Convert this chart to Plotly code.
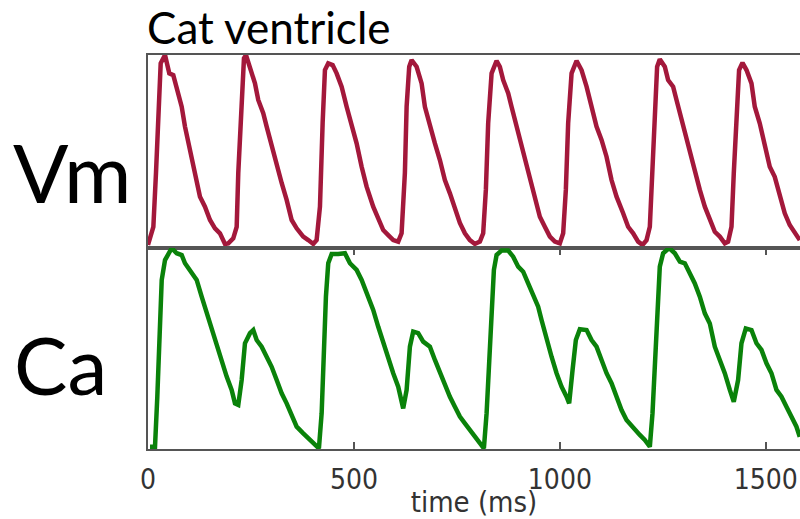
import plotly.graph_objects as go
from plotly.subplots import make_subplots

# ---- data (time in ms, signals normalised 0..1) ----
vm_t = [0, 13, 19.4, 25.0, 30.8, 41.3, 46.8, 51.7, 61.4, 69.7, 81.8, 89.8, 101.9, 114.1, 126.2, 138.3,
        150.5, 162.6, 174.7, 186.9, 194.9, 207.0, 215.3, 219.2, 227.4, 233.0, 237.9, 247.6, 259.7, 267.7,
        279.8, 288.1, 300.2, 312.4, 324.5, 336.6, 348.8, 360.9, 376.9, 389.1, 401.2, 409.4, 417.5, 424.0,
        429.6, 437.6, 448.3, 458.0, 470.1, 482.3, 494.4, 506.5, 518.7, 530.8, 546.8, 559.0, 571.1, 583.2,
        595.4, 607.5, 615.7, 623.7, 627.9, 634.2, 640.0, 652.2, 664.3, 672.3, 684.4, 696.6, 708.7, 720.8,
        733.0, 745.1, 757.2, 769.4, 781.5, 793.6, 805.8, 813.8, 820.3, 825.9, 834.2, 846.3, 854.3, 862.4,
        874.5, 882.7, 890.7, 902.9, 915.0, 927.1, 939.3, 951.4, 963.5, 975.7, 987.8, 999.9, 1008.0, 1014.5,
        1020.1, 1028.4, 1040.5, 1052.6, 1064.8, 1076.9, 1089.0, 1101.2, 1113.3, 1125.4, 1137.6, 1153.6,
        1165.7, 1177.9, 1190.0, 1200.7, 1210.4, 1218.4, 1224.9, 1230.5, 1236.1, 1242.6, 1254.8, 1262.8,
        1275.0, 1283.2, 1295.3, 1307.4, 1315.5, 1327.6, 1339.8, 1351.9, 1364.0, 1376.2, 1388.3, 1400.4,
        1408.4, 1416.7, 1422.2, 1428.8, 1435.1, 1443.4, 1453.1, 1465.2, 1473.2, 1485.3, 1497.5, 1509.6,
        1521.7, 1533.9, 1546.0, 1558.1, 1570.3, 1582.4]
vm_v = [0.016, 0.110, 0.389, 0.732, 0.957, 1.0, 0.957, 0.905, 0.896, 0.836, 0.732, 0.629, 0.508, 0.389,
        0.266, 0.214, 0.145, 0.102, 0.076, 0.021, 0.024, 0.050, 0.110, 0.389, 0.819, 0.983, 1.0, 0.939,
        0.853, 0.767, 0.699, 0.629, 0.525, 0.421, 0.337, 0.249, 0.145, 0.102, 0.059, 0.041, 0.021, 0.041,
        0.214, 0.648, 0.922, 0.957, 0.948, 0.905, 0.836, 0.732, 0.646, 0.542, 0.421, 0.318, 0.214, 0.145,
        0.093, 0.067, 0.041, 0.033, 0.076, 0.389, 0.732, 0.939, 0.974, 0.939, 0.853, 0.732, 0.629, 0.542,
        0.456, 0.352, 0.283, 0.197, 0.130, 0.076, 0.041, 0.021, 0.033, 0.076, 0.301, 0.646, 0.905, 0.970,
        0.939, 0.870, 0.802, 0.732, 0.663, 0.577, 0.473, 0.352, 0.249, 0.162, 0.110, 0.059, 0.033, 0.024,
        0.076, 0.301, 0.646, 0.905, 0.970, 0.922, 0.836, 0.732, 0.629, 0.560, 0.473, 0.352, 0.266, 0.180,
        0.110, 0.076, 0.033, 0.016, 0.041, 0.110, 0.387, 0.732, 0.939, 0.978, 0.939, 0.870, 0.836, 0.767,
        0.663, 0.577, 0.491, 0.387, 0.301, 0.214, 0.145, 0.084, 0.059, 0.024, 0.033, 0.110, 0.387, 0.732,
        0.922, 0.960, 0.922, 0.853, 0.732, 0.646, 0.542, 0.421, 0.369, 0.266, 0.180, 0.119, 0.084, 0.041]

ca_t = [4.9, 17.0, 22.6, 27.4, 33.3, 41.3, 49.3, 57.5, 69.7, 81.8, 89.8, 101.9, 118.2, 130.3, 142.5,
        154.6, 166.7, 178.9, 191.0, 203.1, 211.2, 219.2, 227.4, 235.4, 247.6, 255.6, 263.8, 275.9, 288.1,
        300.2, 312.4, 324.5, 336.6, 348.8, 360.9, 376.9, 393.2, 405.3, 415.0, 421.6, 427.2, 432.0, 437.6,
        445.9, 461.9, 478.1, 490.3, 506.5, 518.7, 530.8, 546.8, 559.0, 571.1, 583.2, 595.4, 607.5, 619.6,
        627.9, 635.9, 643.9, 656.0, 668.2, 684.4, 696.6, 708.7, 720.8, 733.0, 745.1, 757.2, 769.4, 781.5,
        793.6, 805.8, 815.5, 822.1, 828.4, 834.2, 839.8, 846.3, 858.5, 874.5, 886.6, 898.8, 910.9, 923.0,
        935.2, 947.3, 955.5, 967.7, 979.8, 992.0, 1004.1, 1016.2, 1022.6, 1030.8, 1038.8, 1048.5, 1064.8,
        1076.9, 1089.0, 1101.2, 1113.3, 1125.4, 1137.6, 1149.7, 1161.8, 1177.9, 1194.1, 1206.2, 1218.4,
        1224.9, 1230.5, 1236.1, 1242.6, 1250.7, 1265.3, 1279.1, 1291.3, 1303.4, 1315.5, 1327.6, 1339.8,
        1351.9, 1364.0, 1376.2, 1388.3, 1400.4, 1412.6, 1422.2, 1432.7, 1440.9, 1451.4, 1465.2, 1477.3,
        1489.5, 1501.6, 1513.7, 1525.9, 1538.0, 1550.1, 1562.3, 1574.4, 1582.4]
ca_v = [0.011, 0.011, 0.260, 0.592, 0.841, 0.940, 0.974, 0.999, 0.974, 0.965, 0.924, 0.891, 0.841, 0.758,
        0.675, 0.592, 0.509, 0.426, 0.360, 0.294, 0.227, 0.219, 0.343, 0.526, 0.576, 0.592, 0.542, 0.509,
        0.459, 0.409, 0.343, 0.277, 0.227, 0.161, 0.111, 0.078, 0.045, 0.020, 0.003, 0.178, 0.509, 0.758,
        0.924, 0.970, 0.970, 0.974, 0.924, 0.891, 0.841, 0.775, 0.692, 0.608, 0.526, 0.443, 0.377, 0.310,
        0.202, 0.294, 0.509, 0.584, 0.576, 0.534, 0.509, 0.443, 0.377, 0.327, 0.260, 0.210, 0.161, 0.128,
        0.095, 0.061, 0.028, 0.003, 0.178, 0.426, 0.675, 0.891, 0.965, 0.987, 0.987, 0.957, 0.907, 0.882,
        0.824, 0.758, 0.708, 0.642, 0.542, 0.459, 0.377, 0.310, 0.260, 0.227, 0.393, 0.542, 0.596, 0.592,
        0.542, 0.509, 0.443, 0.377, 0.327, 0.260, 0.194, 0.144, 0.103, 0.070, 0.045, 0.011, 0.178, 0.426,
        0.675, 0.907, 0.974, 1.0, 0.974, 0.932, 0.924, 0.874, 0.824, 0.758, 0.675, 0.625, 0.509, 0.443,
        0.377, 0.294, 0.235, 0.343, 0.526, 0.600, 0.592, 0.526, 0.493, 0.426, 0.377, 0.294, 0.260, 0.210,
        0.161, 0.111, 0.061]

tick_vals = [0, 500, 1000, 1500]
tick_text = ["0", "500", "1000", "1500"]

RED = "#a3183b"
GREEN = "#0a820a"
FRAME = "#555555"
TICKFONT = "Liberation Sans Narrow, DejaVu Sans Condensed, DejaVu Sans, sans-serif"
BIGFONT = "Lato, Open Sans, sans-serif"

fig = make_subplots(rows=2, cols=1, shared_xaxes=True, vertical_spacing=0,
                    row_heights=[193, 201])

fig.add_trace(go.Scatter(x=vm_t, y=vm_v, mode="lines",
                         line=dict(color=RED, width=4.5), showlegend=False), row=1, col=1)
fig.add_trace(go.Scatter(x=ca_t, y=ca_v, mode="lines",
                         line=dict(color=GREEN, width=4.5), showlegend=False), row=2, col=1)

xr = [0, 1583]
fig.update_xaxes(range=xr, showgrid=False, zeroline=False, showline=True, linecolor=FRAME,
                 linewidth=1.5, mirror=True, row=1, col=1, ticks="", showticklabels=False)
fig.update_xaxes(range=xr, showgrid=False, zeroline=False, showline=True, linecolor=FRAME,
                 linewidth=1.5, mirror="ticks", ticks="inside", ticklen=7, tickcolor=FRAME,
                 tickwidth=1.5, tickvals=tick_vals, ticktext=tick_text,
                 tickfont=dict(family=TICKFONT, size=28, color="#333333"),
                 ticklabelstandoff=5,
                 title=dict(text="time (ms)", standoff=0,
                            font=dict(family=TICKFONT, size=29, color="#333333")),
                 row=2, col=1)
fig.update_yaxes(range=[0, 1], showgrid=False, zeroline=False, showline=True, linecolor=FRAME,
                 linewidth=1.5, mirror=False, ticks="", showticklabels=False)

fig.add_annotation(text="Cat ventricle", xref="paper", yref="paper", x=-0.004, y=1.07,
                   xanchor="left", yanchor="middle", showarrow=False,
                   font=dict(family=BIGFONT, size=44, color="#000000"))
fig.add_annotation(text="Vm", xref="paper", yref="paper", x=-0.21, y=0.706,
                   xanchor="left", yanchor="middle", showarrow=False,
                   font=dict(family=BIGFONT, size=82, color="#000000"))
fig.add_annotation(text="Ca", xref="paper", yref="paper", x=-0.208, y=0.216,
                   xanchor="left", yanchor="middle", showarrow=False,
                   font=dict(family=BIGFONT, size=80, color="#000000"))

fig.update_layout(width=800, height=519, margin=dict(l=148, r=0, t=55, b=70),
                  paper_bgcolor="white", plot_bgcolor="white")

fig.write_html("out.html")
